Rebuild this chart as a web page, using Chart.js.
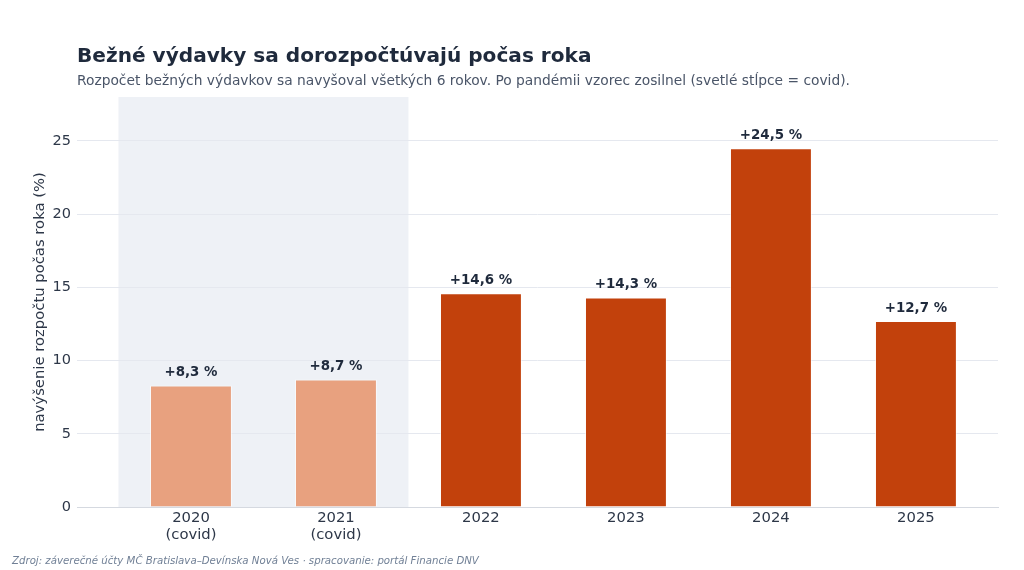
<!DOCTYPE html>
<html>
<head>
<meta charset="utf-8">
<script src="https://cdn.jsdelivr.net/npm/chart.js@4.4.1/dist/chart.umd.min.js"></script>
<style>
  html, body { margin: 0; padding: 0; background: #fff; }
  #wrap { position: relative; width: 1024px; height: 570px; font-family: "DejaVu Sans", sans-serif; }
  #wrap canvas { position: absolute; left: 0; top: 0; }
  .title { position: absolute; left: 77px; top: 43px; font-size: 20.1px; font-weight: bold; color: #1f2a3c; white-space: nowrap; }
  .subtitle { position: absolute; left: 77px; top: 72px; font-size: 13.8px; color: #4a5568; white-space: nowrap; }
  .footer { position: absolute; left: 12px; top: 555px; font-size: 10.2px; font-style: italic; color: #718096; white-space: nowrap; }
</style>
</head>
<body>
<div id="wrap">
  <canvas id="myChart" width="1024" height="570"></canvas>
  <div class="title">Bežné výdavky sa dorozpočtúvajú počas roka</div>
  <div class="subtitle">Rozpočet bežných výdavkov sa navyšoval všetkých 6 rokov. Po pandémii vzorec zosilnel (svetlé stĺpce = covid).</div>
  <div class="footer">Zdroj: záverečné účty MČ Bratislava–Devínska Nová Ves · spracovanie: portál Financie DNV</div>
</div>
<script>
var years = ["2020", "2021", "2022", "2023", "2024", "2025"];
var tickLabels = [["2020", "(covid)"], ["2021", "(covid)"], "2022", "2023", "2024", "2025"];
var yValues = [8.3, 8.7, 14.6, 14.3, 24.5, 12.7];
var covid = [true, true, false, false, false, false];
var yTicks = [0, 5, 10, 15, 20, 25];

var barColors = covid.map(function(c) { return c ? "#e8a17f" : "#c2410c"; });
var points = yValues.map(function(v, i) { return { x: i, y: v }; });

function fmt(v) {
	return "+" + v.toFixed(1).replace(".", ",") + " %";
}

// light band behind the covid years
var covidBand = {
	id: "covidBand",
	beforeDraw: function(chart) {
		var x = chart.scales.x, area = chart.chartArea, ctx = chart.ctx;
		var idx = [];
		covid.forEach(function(c, i) { if (c) idx.push(i); });
		if (!idx.length) return;
		var x0 = x.getPixelForValue(idx[0] - 0.5);
		var x1 = x.getPixelForValue(idx[idx.length - 1] + 0.5);
		ctx.save();
		ctx.fillStyle = "#eef1f6";
		ctx.fillRect(x0, area.top, x1 - x0, area.bottom - area.top);
		ctx.restore();
	}
};

var barLabels = {
	id: "barLabels",
	afterDatasetsDraw: function(chart) {
		var ctx = chart.ctx;
		var meta = chart.getDatasetMeta(0);
		ctx.save();
		ctx.font = "bold 13.4px 'DejaVu Sans'";
		ctx.fillStyle = "#1f2a3c";
		ctx.textAlign = "center";
		ctx.textBaseline = "bottom";
		meta.data.forEach(function(bar, i) {
			ctx.fillText(fmt(yValues[i]), bar.x, bar.y - 6);
		});
		ctx.restore();
	}
};

new Chart("myChart", {
	type: "bar",
	data: {
		datasets: [{
			data: points,
			backgroundColor: barColors,
			borderColor: "rgba(255,255,255,0.6)",
			borderWidth: 1,
			barPercentage: 0.565,
			categoryPercentage: 1
		}]
	},
	plugins: [covidBand, barLabels],
	options: {
		responsive: false,
		animation: false,
		layout: { padding: { left: 0, right: 26, top: 97, bottom: 0 } },
		plugins: {
			legend: { display: false },
			tooltip: { enabled: false }
		},
		scales: {
			x: {
				type: "linear",
				offset: false,
				min: -0.786,
				max: 5.566,
				afterBuildTicks: function(axis) {
					axis.ticks = years.map(function(y, i) { return { value: i }; });
				},
				afterFit: function(axis) { axis.height = 63; },
				ticks: {
					callback: function(v) { return tickLabels[v]; },
					autoSkip: false,
					maxRotation: 0,
					padding: 3,
					color: "#2d3748",
					font: { family: "DejaVu Sans", size: 14.8, lineHeight: 1.15 }
				},
				grid: { display: false, drawTicks: false, tickLength: 0 },
				border: { display: true, color: "#d5d9e0", width: 1 }
			},
			y: {
				min: 0,
				max: 28,
				afterBuildTicks: function(axis) {
					axis.ticks = yTicks.map(function(v) { return { value: v }; });
				},
				afterFit: function(axis) { axis.width = 77; },
				ticks: {
					padding: 6,
					color: "#2d3748",
					font: { family: "DejaVu Sans", size: 14.5 }
				},
				grid: { color: "#e5e8ef", lineWidth: 1, drawTicks: false },
				border: { display: false },
				title: {
					display: true,
					text: "navýšenie rozpočtu počas roka (%)",
					color: "#2d3748",
					font: { family: "DejaVu Sans", size: 14.8 },
					padding: { top: 31, bottom: 0 }
				}
			}
		}
	}
});
</script>
</body>
</html>
